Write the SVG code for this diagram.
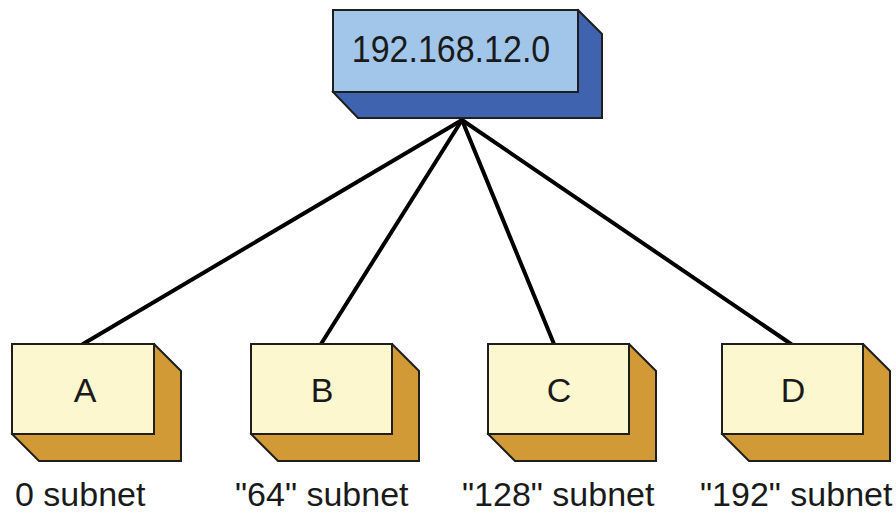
<svg xmlns="http://www.w3.org/2000/svg" width="896" height="517" viewBox="0 0 896 517">
<style>
.face{stroke:#1e1e1e;stroke-width:2;stroke-linejoin:miter}
.bf{fill:#a2c6ea}
.bd{fill:#3f63ae}
.yf{fill:#fdf7cf}
.yd{fill:#d19a36}
.t{font-family:"Liberation Sans",Arial,sans-serif;fill:#1a1a1a}
.lbl{font-size:34px}
.ltr{font-size:34px;text-anchor:middle}
.conn{stroke:#000;stroke-width:4;fill:none;stroke-linecap:round}
</style>
<rect width="896" height="517" fill="#fff"/>
<g id="connectors">
<line class="conn" x1="462" y1="120" x2="83" y2="344"/>
<line class="conn" x1="462" y1="120" x2="321" y2="344"/>
<line class="conn" x1="462" y1="120" x2="554" y2="344"/>
<line class="conn" x1="462" y1="120" x2="791" y2="344"/>
</g>
<g id="root">
<polygon class="face bd" points="578,10 602,34 602,118 358,118 333,92"/>
<rect class="face bf" x="333" y="10" width="245" height="82"/>
<text class="t" x="451" y="56" font-size="34" text-anchor="middle" transform="translate(0,62) scale(1,1.1) translate(0,-56)">192.168.12.0</text>
</g>
<g id="nodeA">
<polygon class="face yd" points="154,344 181,371 181,461 39,461 12,434"/>
<rect class="face yf" x="12" y="344" width="142" height="90"/>
<text class="t ltr" x="85" y="402">A</text>
<text class="t lbl" x="15" y="506">0 subnet</text>
</g>
<g id="nodeB">
<polygon class="face yd" points="392,344 419,371 419,461 278,461 251,434"/>
<rect class="face yf" x="251" y="344" width="141" height="90"/>
<text class="t ltr" x="322" y="402">B</text>
<text class="t lbl" x="235" y="506">"64" subnet</text>
</g>
<g id="nodeC">
<polygon class="face yd" points="629,344 656,371 656,461 515,461 488,434"/>
<rect class="face yf" x="488" y="344" width="141" height="90"/>
<text class="t ltr" x="559" y="402">C</text>
<text class="t lbl" x="462" y="506">"128" subnet</text>
</g>
<g id="nodeD">
<polygon class="face yd" points="863,344 890,371 890,461 749,461 722,434"/>
<rect class="face yf" x="722" y="344" width="141" height="90"/>
<text class="t ltr" x="793" y="402">D</text>
<text class="t lbl" x="700" y="506">"192" subnet</text>
</g>
</svg>
